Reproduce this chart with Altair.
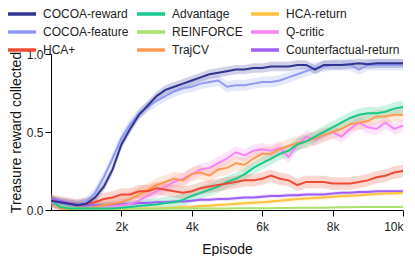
import altair as alt
import pandas as pd

episodes = list(range(0, 10001, 250))

cocoa_reward = [0.06, 0.05, 0.04, 0.03, 0.04, 0.08, 0.15, 0.26, 0.42, 0.52, 0.61, 0.67, 0.73, 0.77,
                0.79, 0.81, 0.83, 0.85, 0.87, 0.88, 0.89, 0.90, 0.90, 0.91, 0.91, 0.92, 0.92, 0.92,
                0.93, 0.93, 0.90, 0.93, 0.93, 0.93, 0.935, 0.94, 0.935, 0.94, 0.94, 0.94, 0.94]
cocoa_feature = [0.06, 0.04, 0.03, 0.03, 0.05, 0.11, 0.21, 0.33, 0.46, 0.55, 0.62, 0.66, 0.70, 0.73,
                 0.76, 0.78, 0.79, 0.81, 0.82, 0.83, 0.79, 0.80, 0.80, 0.81, 0.82, 0.82, 0.83, 0.85,
                 0.87, 0.89, 0.91, 0.92, 0.93, 0.93, 0.93, 0.90, 0.93, 0.93, 0.93, 0.93, 0.93]
hca_plus = [0.06, 0.05, 0.04, 0.03, 0.04, 0.05, 0.07, 0.08, 0.10, 0.10, 0.12, 0.12, 0.14, 0.13,
            0.12, 0.11, 0.12, 0.14, 0.15, 0.16, 0.17, 0.18, 0.19, 0.19, 0.20, 0.22, 0.20, 0.19,
            0.16, 0.18, 0.18, 0.18, 0.17, 0.17, 0.17, 0.18, 0.19, 0.21, 0.22, 0.24, 0.25]
advantage = [0.06, 0.02, 0.01, 0.01, 0.01, 0.01, 0.01, 0.01, 0.015, 0.02, 0.025, 0.03, 0.035, 0.045,
             0.05, 0.065, 0.09, 0.11, 0.13, 0.15, 0.18, 0.20, 0.23, 0.27, 0.30, 0.33, 0.36, 0.38,
             0.42, 0.44, 0.47, 0.50, 0.53, 0.56, 0.59, 0.61, 0.62, 0.62, 0.63, 0.65, 0.66]
reinforce = [0.06, 0.03, 0.015, 0.01, 0.008, 0.008, 0.008, 0.008, 0.008, 0.008, 0.008, 0.008, 0.008,
             0.009, 0.009, 0.009, 0.01, 0.01, 0.01, 0.01, 0.01, 0.011, 0.011, 0.012, 0.012, 0.012,
             0.013, 0.013, 0.014, 0.014, 0.015, 0.015, 0.016, 0.017, 0.018, 0.02, 0.02, 0.019, 0.02,
             0.019, 0.02]
trajcv = [0.06, 0.01, 0.01, 0.01, 0.01, 0.02, 0.03, 0.04, 0.05, 0.07, 0.10, 0.13, 0.16, 0.18,
          0.20, 0.19, 0.23, 0.24, 0.22, 0.26, 0.27, 0.30, 0.29, 0.33, 0.36, 0.36, 0.39, 0.41,
          0.43, 0.44, 0.46, 0.48, 0.50, 0.52, 0.55, 0.56, 0.57, 0.60, 0.60, 0.61, 0.61]
hca_return = [0.06, 0.01, 0.005, 0.005, 0.005, 0.005, 0.005, 0.005, 0.005, 0.005, 0.01, 0.01, 0.01,
              0.012, 0.015, 0.018, 0.02, 0.025, 0.028, 0.032, 0.035, 0.04, 0.043, 0.047, 0.05, 0.055,
              0.06, 0.065, 0.07, 0.073, 0.077, 0.08, 0.085, 0.088, 0.092, 0.095, 0.10, 0.103, 0.106,
              0.108, 0.11]
q_critic = [0.05, 0.02, 0.01, 0.01, 0.01, 0.01, 0.015, 0.02, 0.03, 0.04, 0.06, 0.09, 0.12, 0.15,
            0.18, 0.20, 0.23, 0.26, 0.27, 0.30, 0.33, 0.37, 0.35, 0.38, 0.39, 0.38, 0.40, 0.34,
            0.42, 0.47, 0.45, 0.48, 0.50, 0.47, 0.52, 0.56, 0.53, 0.52, 0.56, 0.52, 0.54]
counterfactual = [0.07, 0.06, 0.045, 0.035, 0.03, 0.03, 0.03, 0.035, 0.04, 0.04, 0.045, 0.045, 0.05,
                  0.05, 0.055, 0.055, 0.06, 0.065, 0.065, 0.07, 0.07, 0.075, 0.08, 0.08, 0.085, 0.09,
                  0.09, 0.095, 0.095, 0.10, 0.10, 0.10, 0.105, 0.11, 0.11, 0.115, 0.115, 0.12, 0.12,
                  0.12, 0.12]

# band half-widths (estimated spread of the shaded regions)
spreads = {
    "COCOA-reward": 0.03, "COCOA-feature": 0.035, "HCA+": 0.04, "Advantage": 0.04,
    "REINFORCE": 0.005, "TrajCV": 0.045, "HCA-return": 0.015, "Q-critic": 0.04,
    "Counterfactual-return": 0.012,
}

# drawing order (last drawn on top)
draw_order = [
    ("Counterfactual-return", counterfactual), ("Q-critic", q_critic), ("HCA-return", hca_return),
    ("TrajCV", trajcv), ("REINFORCE", reinforce), ("Advantage", advantage), ("HCA+", hca_plus),
    ("COCOA-feature", cocoa_feature), ("COCOA-reward", cocoa_reward),
]

legend_order = ["COCOA-reward", "COCOA-feature", "HCA+",
                "Advantage", "REINFORCE", "TrajCV",
                "HCA-return", "Q-critic", "Counterfactual-return"]
legend_colors = ["#2f3490", "#8f99f2", "#ef4b34",
                 "#17c98a", "#a9e26c", "#ff9850",
                 "#ffc23c", "#f883f2", "#a15ef6"]

rows = []
for name, vals in draw_order:
    s = spreads[name]
    for e, v in zip(episodes, vals):
        rows.append({"episode": e, "method": name, "value": v,
                     "lo": max(0.0, v - s), "hi": min(1.0, v + s)})
df = pd.DataFrame(rows)

FONT = "Liberation Sans"
color_scale = alt.Scale(domain=legend_order, range=legend_colors)

x_enc = alt.X("episode:Q", scale=alt.Scale(domain=[0, 10000], nice=False),
              axis=alt.Axis(values=[2000, 4000, 6000, 8000, 10000],
                            labelExpr="datum.value / 1000 + 'k'",
                            title="Episode", labelPadding=5, titlePadding=10))
y_scale = alt.Scale(domain=[0, 1], nice=False)
y_axis = alt.Axis(values=[0, 0.5, 1], title="Treasure reward collected",
                  labelPadding=2, titleX=-35, titleY=78, titleAngle=270,
                  titleBaseline="middle", titleAlign="center")
legend = alt.Legend(title=None, orient="none", legendX=-43, legendY=-46,
                    columns=3, symbolType="M-3.5,0H3.5", symbolSize=64,
                    symbolOffset=8, symbolStrokeWidth=3.5, labelOffset=15,
                    columnPadding=1, rowPadding=4, padding=0,
                    labelFontSize=12, labelFont=FONT,
                    labelColor="#222222", symbolOpacity=1)
color_enc = alt.Color("method:N", scale=color_scale, legend=legend)

bands = alt.Chart(df).mark_area(opacity=0.22, clip=True).encode(
    x=x_enc,
    y=alt.Y("lo:Q", scale=y_scale, axis=y_axis, title="Treasure reward collected"),
    y2="hi:Q",
    color=color_enc,
)

lines = alt.Chart(df).mark_line(strokeWidth=2, clip=True).encode(
    x=x_enc,
    y=alt.Y("value:Q", scale=y_scale, axis=y_axis, title="Treasure reward collected"),
    color=color_enc,
)

chart = alt.layer(bands, lines).properties(
    width=352, height=156,
    autosize=alt.AutoSizeParams(type="none"),
    padding={"left": 43, "top": 46, "right": 4, "bottom": 46},
).configure_view(stroke=None).configure_axis(
    grid=False, domainColor="#000000", tickColor="#000000", tickSize=6,
    labelFont=FONT, titleFont=FONT, labelFontSize=12, titleFontSize=14,
    labelColor="#222222", titleColor="#111111", titleFontWeight="normal",
    domainWidth=1, tickWidth=1,
)

chart.save("out.html", embed_options={"renderer": "svg", "actions": False})
